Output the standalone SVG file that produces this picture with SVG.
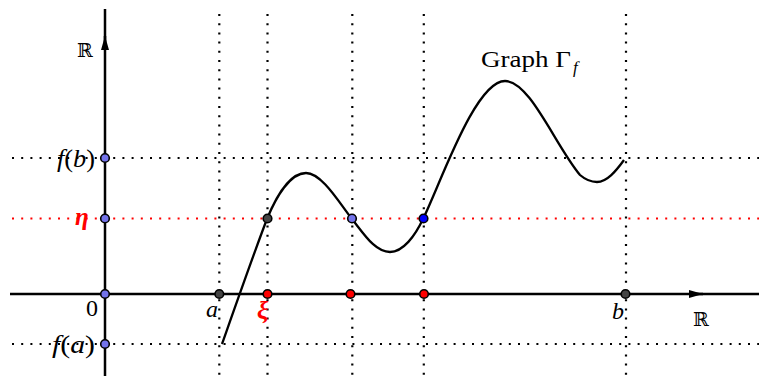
<svg xmlns="http://www.w3.org/2000/svg" width="759" height="376" viewBox="0 0 759 376">
<style>
.dot{stroke:#000;stroke-width:2.2;stroke-dasharray:2 7.2;fill:none}
.dotr{stroke:#f00;stroke-width:2.2;stroke-dasharray:2 7.2;fill:none}
.axis{stroke:#000;stroke-width:2.5;fill:none}
.curve{stroke:#000;stroke-width:2.3;fill:none;stroke-linejoin:round}
.pt{stroke:#000;stroke-width:1.6}
.lav{fill:#7373ea}
.gry{fill:#444}
.red{fill:#f00}
.blu{fill:#00f}
.t{font-family:"Liberation Serif","Times New Roman",serif;font-size:24px;fill:#000}
.it{font-style:italic}
.rb{font-style:italic;font-weight:bold;fill:#f00}
.bb{font-family:"DejaVu Serif","DejaVu Sans",serif;font-size:19px;fill:#000}
</style>
<defs>
<marker id="arr" viewBox="0 0 14 8" refX="14" refY="4" markerWidth="14" markerHeight="8" markerUnits="userSpaceOnUse" orient="auto">
<path d="M0,0 L14,4 L0,8 Z" fill="#000"/>
</marker>
</defs>
<g id="grid">
<line class="dot" x1="12" y1="158" x2="759" y2="158"/>
<line class="dot" x1="12" y1="344" x2="759" y2="344"/>
<line class="dotr" x1="12" y1="218.5" x2="759" y2="218.5"/>
<line class="dot" x1="219.3" y1="14" x2="219.3" y2="376"/>
<line class="dot" x1="267.5" y1="14" x2="267.5" y2="376"/>
<line class="dot" x1="352.3" y1="14" x2="352.3" y2="376"/>
<line class="dot" x1="423.8" y1="14" x2="423.8" y2="376"/>
<line class="dot" x1="626" y1="14" x2="626" y2="376"/>
</g>
<g id="axes">
<line class="axis" x1="10" y1="294" x2="759" y2="294"/>
<line class="axis" x1="689" y1="294" x2="703" y2="294" marker-end="url(#arr)"/>
<line class="axis" x1="105" y1="376" x2="105" y2="9"/>
<line class="axis" x1="105" y1="50" x2="105" y2="36" marker-end="url(#arr)"/>
</g>
<g id="graph">
<path class="curve" d="M222,344 C234,310 255,250 267,219 C276,197 290,173 306,173 C322,173 340,204 352,219 C364,234 375,252 390,252 C403,252 415,236 423,219 C440,185 475,81 505,81 C530,81 555,145 580,175 C587,181 592,182 597,182 C607,182 616,171 624,160"/>
</g>
<g id="points">
<circle class="pt lav" cx="105" cy="158" r="4.3"/>
<circle class="pt lav" cx="105" cy="218.5" r="4.3"/>
<circle class="pt lav" cx="105" cy="294" r="4.3"/>
<circle class="pt lav" cx="105" cy="344" r="4.3"/>
<circle class="pt gry" cx="219.3" cy="294" r="4.3"/>
<circle class="pt red" cx="267.5" cy="294" r="4.3"/>
<circle class="pt red" cx="350.5" cy="294" r="4.3"/>
<circle class="pt red" cx="424" cy="294" r="4.3"/>
<circle class="pt gry" cx="625.5" cy="294" r="4.3"/>
<circle class="pt gry" cx="267.5" cy="218.5" r="4.3"/>
<circle class="pt lav" cx="352" cy="218.5" r="4.3"/>
<circle class="pt blu" cx="423.5" cy="218.5" r="4.3"/>
</g>
<g id="labels">
<text class="bb" x="77" y="57">ℝ</text>
<text class="bb" x="693" y="326">ℝ</text>
<text class="t" x="481" y="67" textLength="90" lengthAdjust="spacingAndGlyphs">Graph Γ</text>
<text class="t it" x="573" y="73" style="font-size:17px">f</text>
<text class="t" x="57" y="167" style="font-size:25px" textLength="38" lengthAdjust="spacingAndGlyphs"><tspan class="it">f</tspan>(<tspan class="it">b</tspan>)</text>
<text class="t" x="52" y="353" style="font-size:25px" textLength="43" lengthAdjust="spacingAndGlyphs"><tspan class="it">f</tspan>(<tspan class="it">a</tspan>)</text>
<text class="t rb" x="75" y="225" style="font-size:25px">η</text>
<text class="t" x="86" y="316">0</text>
<text class="t it" x="206" y="317">a</text>
<text class="t rb" x="257" y="319" style="font-size:25px">ξ</text>
<text class="t it" x="612" y="319">b</text>
</g>
</svg>
